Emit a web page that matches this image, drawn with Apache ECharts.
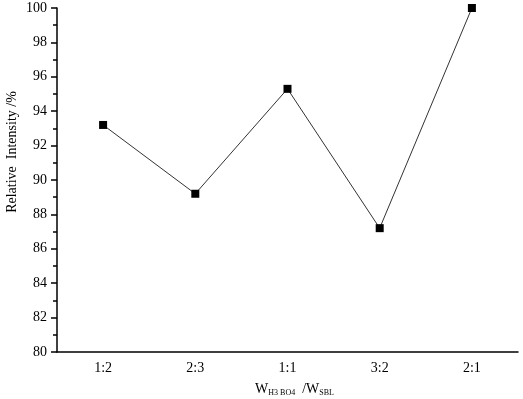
<!DOCTYPE html>
<html>
<head>
<meta charset="utf-8">
<script src="https://cdn.jsdelivr.net/npm/echarts@6/dist/echarts.min.js"></script>
<style>
  html, body { margin: 0; padding: 0; background: #fff; }
  #chart { width: 523px; height: 399px; }
</style>
</head>
<body>
<div id="chart"></div>
<script>
const ratios = ['1:2', '2:3', '1:1', '3:2', '2:1']
const intensity = [93.2, 89.2, 95.3, 87.2, 100]
const yTicks = { min: 80, max: 100, step: 2 }

const font = 'Liberation Serif'
const axisColor = '#000'

const chart = echarts.init(document.getElementById('chart'))

chart.setOption({
  animation: false,
  grid: { left: 57, right: 5, top: 8, bottom: 47, containLabel: false, outerBoundsMode: 'none' },
  xAxis: [{
    type: 'category',
    data: ratios,
    boundaryGap: true,
    name: '{w|W}{s|H3 BO4}{w|  /W}{s|SBL}',
    nameLocation: 'middle',
    nameGap: 30,
    nameMoveOverlap: false,
    nameTextStyle: {
      padding: [0, 0, 0, 14],
      rich: {
        w: { fontFamily: font, fontSize: 14, color: '#000' },
        s: { fontFamily: font, fontSize: 8, color: '#000', verticalAlign: 'bottom', padding: [7, 0, 0, 0] }
      }
    },
    axisLine: { lineStyle: { color: axisColor, width: 1.5 } },
    axisTick: { alignWithLabel: true, inside: false, length: 5, lineStyle: { color: axisColor, width: 1.5 } },
    axisLabel: { fontFamily: font, fontSize: 14, color: '#000', margin: 9 },
    splitLine: { show: false }
  }, {
    type: 'category',
    data: ratios,
    boundaryGap: true,
    position: 'bottom',
    axisLine: { show: false },
    axisTick: { length: 5, lineStyle: { color: axisColor, width: 1.5 } },
    axisLabel: { show: false },
    splitLine: { show: false }
  }],
  yAxis: {
    type: 'value',
    min: yTicks.min,
    max: yTicks.max,
    interval: yTicks.step,
    name: 'Relative  Intensity /%',
    nameLocation: 'middle',
    nameGap: 38,
    nameMoveOverlap: false,
    nameTextStyle: { fontFamily: font, fontSize: 14, color: '#000', padding: [0, 0, 0, 56] },
    axisLine: { show: true, lineStyle: { color: axisColor, width: 1.5 } },
    axisTick: { show: true, length: 6, lineStyle: { color: axisColor, width: 1.5 } },
    minorTick: { show: true, splitNumber: 2, length: 4, lineStyle: { color: axisColor, width: 1.5 } },
    axisLabel: { fontFamily: font, fontSize: 14, color: '#000', margin: 10 },
    splitLine: { show: false }
  },
  series: [{
    type: 'line',
    data: intensity,
    symbol: 'rect',
    symbolSize: 8,
    itemStyle: { color: '#000' },
    lineStyle: { color: '#333', width: 1 }
  }]
})
</script>
</body>
</html>
